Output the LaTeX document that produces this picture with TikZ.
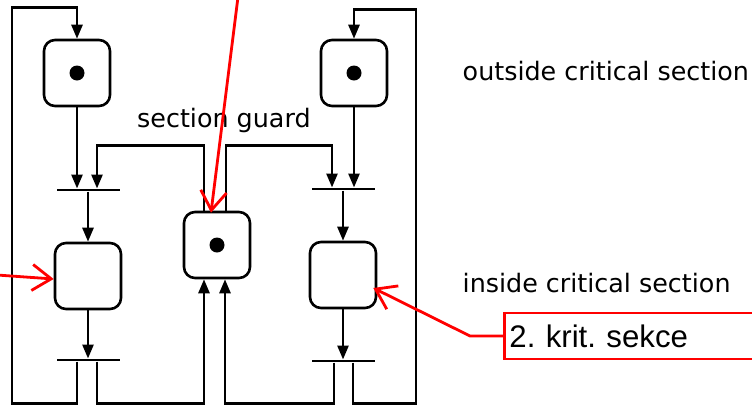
\documentclass[tikz,border=0pt]{standalone}
\usepackage{fontspec}
\setmainfont{DejaVu Sans}
\newfontfamily\calloutfont{Liberation Sans}
\usetikzlibrary{arrows.meta}
\frenchspacing
\begin{document}
\begin{tikzpicture}[x=1pt,y=-1pt,
  place/.style={draw,line width=2.6pt,rounded corners=11pt,minimum size=66pt,inner sep=0pt},
  tok/.style={circle,fill=black,minimum size=15pt,inner sep=0pt},
  bar/.style={fill=black,minimum width=63pt,minimum height=2.6pt,inner sep=0pt},
  arr/.style={line width=2.6pt,-{Triangle[length=14pt,width=11pt]}},
  redarr/.style={red,line width=2.8pt,-{Straight Barb[length=19pt,width=26pt,line width=2.8pt]}},
  lbl/.style={font=\fontsize{25.4}{30}\selectfont,anchor=base west,inner sep=0pt},
  callout/.style={draw=red,line width=2.8pt,fill=white,font=\calloutfont\fontsize{31.2}{38}\selectfont,
    anchor=west,minimum height=46pt,minimum width=270pt,text width=260pt,inner xsep=4pt,align=left}
]
\useasboundingbox (0,0) rectangle (752,405);

% places
\node[place] (p1) at (77,73) {};
\node[place] (p2) at (354,73) {};
\node[place] (g)  at (217,245) {};
\node[place] (p4) at (88,276) {};
\node[place] (p5) at (343,275) {};
\node[tok] (k1) at (p1) {};
\node[tok] (k2) at (p2) {};
\node[tok] (k3) at (g) {};

% transitions
\node[bar] (t1) at (88,190) {};
\node[bar] (t2) at (343,189) {};
\node[bar] (t3) at (88,360) {};
\node[bar] (t4) at (343,361) {};

% arcs
\draw[arr] (p1.south) -- (p1.south |- t1.north);
\draw[arr] (p2.south) -- (p2.south |- t2.north);
\draw[arr] ([xshift=-13pt]g.north) -- ++(0,-65) -| ([xshift=9pt]t1.north);
\draw[arr] ([xshift=9pt]g.north) -- ++(0,-65) -| ([xshift=-11pt]t2.north);
\draw[arr] (t1.south) -- (p4.north);
\draw[arr] (t2.south) -- (p5.north);
\draw[arr] (p4.south) -- (t3.north);
\draw[arr] (p5.south) -- (t4.north);
\draw[arr] ([xshift=-11pt]t3.south) -- ++(0,42) -- ++(-65,0) -- ++(0,-396) -| (p1.north);
\draw[arr] ([xshift=9pt]t3.south) -- ++(0,42) -| ([xshift=-13pt]g.south);
\draw[arr] ([xshift=-9pt]t4.south) -- ++(0,41) -| ([xshift=8pt]g.south);
\draw[arr] ([xshift=10pt]t4.south) -- ++(0,41) -- ++(63,0) -- ++(0,-394) -| (p2.north);

% labels
\node[lbl] (l1) at (137,127) {section guard};
\node[lbl] (l2) at (462.5,80) {outside critical section};
\node[lbl] (l3) at (462.5,292) {inside critical section};

% red annotations
\coordinate (r1) at (238,-3);
\coordinate (r2) at (-3,275);
\draw[redarr] (r1) -- ([xshift=-6pt,yshift=-2pt]g.north);
\draw[redarr] (r2) -- ([yshift=-3pt]p4.west);
\node[callout] (c) at (503,336) {2. krit. sekce};
\draw[redarr] (c.west) -- ++(-33,0) -- ([xshift=-4pt,yshift=-13pt]p5.east);
\end{tikzpicture}
\end{document}
